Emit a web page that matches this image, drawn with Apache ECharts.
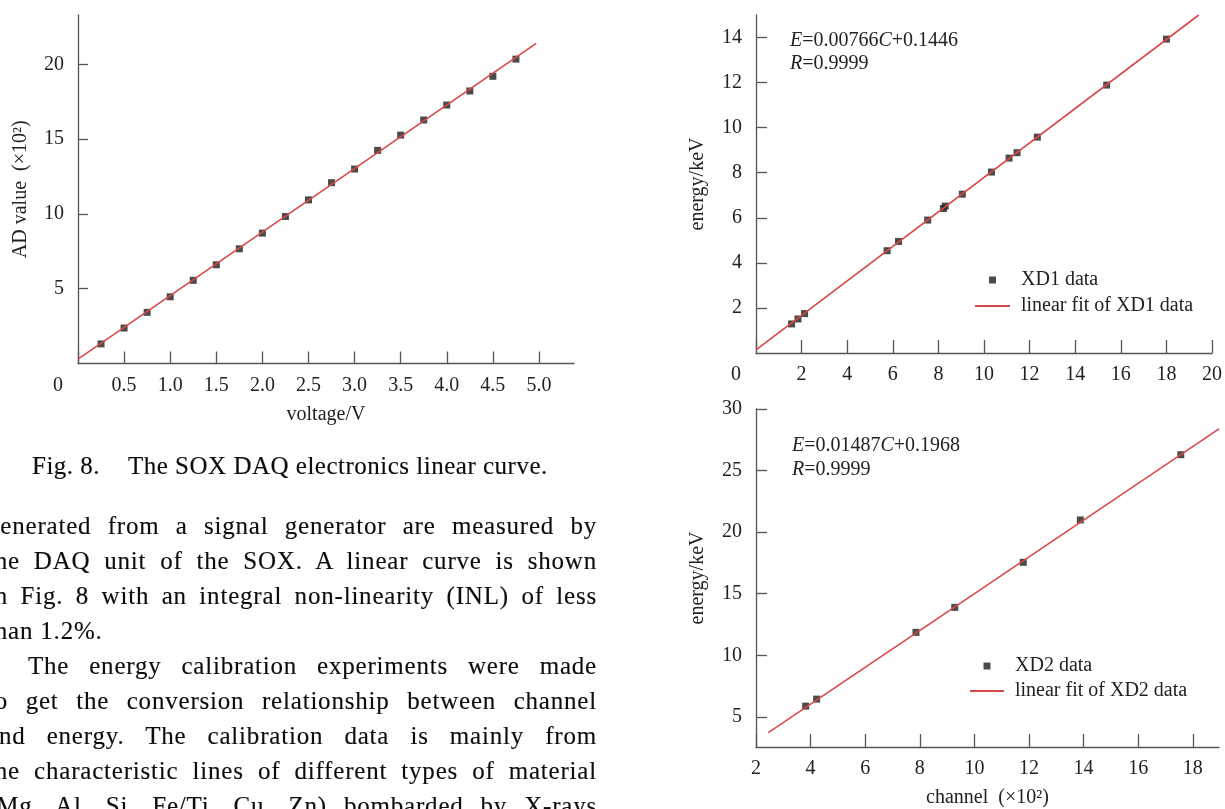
<!DOCTYPE html>
<html>
<head>
<meta charset="utf-8">
<script src="https://cdn.jsdelivr.net/npm/echarts@6/dist/echarts.min.js"></script>
<style>
  html, body { margin: 0; padding: 0; background: #fff; overflow: hidden; }
  #main { position: absolute; left: 0; top: 0; width: 1225px; height: 809px; }
  #page { position: absolute; left: 0; top: 0; width: 1225px; height: 809px; overflow: hidden;
          pointer-events: none; font-family: 'Liberation Serif', serif; color: #0d0d0d;
          -webkit-text-stroke: 0.15px #0d0d0d; }
  .ln { position: absolute; width: 610px; height: 35px; line-height: 35px; font-size: 25px;
        letter-spacing: 0.8px; text-align: justify; text-align-last: justify; overflow: hidden; }
  .ln.last { text-align: left; text-align-last: left; }
  .cap { position: absolute; height: 35px; line-height: 35px; font-size: 25px; letter-spacing: 0.5px; white-space: nowrap; }
</style>
</head>
<body>
<div id="main"></div>
<div id="page"></div>
<script>
// Fig. 8: SOX DAQ linearity
var voltage = [0.25, 0.5, 0.75, 1.0, 1.25, 1.5, 1.75, 2.0, 2.25, 2.5, 2.75, 3.0, 3.25, 3.5, 3.75, 4.0, 4.25, 4.5, 4.75];
var adValue = [1.31, 2.37, 3.42, 4.46, 5.56, 6.60, 7.67, 8.72, 9.83, 10.94, 12.09, 13.0, 14.25, 15.27, 16.28, 17.28, 18.22, 19.2, 20.35];
var adFit = [[0, 0.29], [4.97, 21.4]];
var voltageTicks = [0, 0.5, 1.0, 1.5, 2.0, 2.5, 3.0, 3.5, 4.0, 4.5, 5.0];
var adTicks = [5, 10, 15, 20];

// energy calibration, XD1
var xd1Channel = [1.56, 1.84, 2.13, 5.75, 6.25, 7.53, 8.22, 8.30, 9.05, 10.33, 11.10, 11.45, 12.34, 15.38, 18.00];
var xd1Energy = [1.29, 1.51, 1.75, 4.54, 4.95, 5.90, 6.41, 6.52, 7.05, 8.03, 8.65, 8.89, 9.58, 11.89, 13.93];
var xd1Fit = [[0, 0.14], [19.42, 15.0]];
var ch1Ticks = [0, 2, 4, 6, 8, 10, 12, 14, 16, 18, 20];
var e1Ticks = [2, 4, 6, 8, 10, 12, 14];

// energy calibration, XD2
var xd2Channel = [3.82, 4.22, 7.86, 9.28, 11.79, 13.88, 17.56];
var xd2Energy = [5.87, 6.44, 11.86, 13.89, 17.55, 20.99, 26.29];
var xd2Fit = [[2.45, 3.72], [18.96, 28.39]];
var ch2Ticks = [2, 4, 6, 8, 10, 12, 14, 16, 18];
var e2Ticks = [5, 10, 15, 20, 25, 30];

var eq1 = ['{i|E}=0.00766{i|C}+0.1446', '{i|R}=0.9999'];
var eq2 = ['{i|E}=0.01487{i|C}+0.1968', '{i|R}=0.9999'];

var caption = ['Fig. 8.', 'The SOX DAQ electronics linear curve.'];
var bodyLines = [
  'generated from a signal generator are measured by',
  'the DAQ unit of the SOX. A linear curve is shown',
  'in Fig. 8 with an integral non-linearity (INL) of less',
  'than 1.2%.',
  'The energy calibration experiments were made',
  'to get the conversion relationship between channel',
  'and energy.  The calibration data is mainly from',
  'the characteristic lines of different types of material',
  '(Mg, Al, Si, Fe/Ti, Cu, Zn) bombarded by X-rays'
];

// ---- page text around the figures ----
var page = document.getElementById('page');
var c1 = document.createElement('div');
c1.className = 'cap'; c1.style.left = '32px'; c1.style.top = '448px';
c1.textContent = caption[0];
page.appendChild(c1);
var c2 = document.createElement('div');
c2.className = 'cap'; c2.style.left = '128px'; c2.style.top = '448px';
c2.textContent = caption[1];
page.appendChild(c2);
for (var k = 0; k < bodyLines.length; k++) {
  var d = document.createElement('div');
  d.className = 'ln' + (k === 3 ? ' last' : '');
  var indent = (k === 4) ? 41 : 0;
  d.style.left = (-13 + indent) + 'px';
  d.style.width = (610 - indent) + 'px';
  d.style.top = (508 + k * 35) + 'px';
  d.textContent = bodyLines[k];
  page.appendChild(d);
}

// ---- charts ----
var font = 'Liberation Serif';
var axisColor = '#555';
var textColor = '#222';
var fitColor = '#d94848';
var dotColor = '#1e1e1e';

function pairs(xs, ys) {
  var out = [];
  for (var i = 0; i < xs.length; i++) out.push([xs[i], ys[i]]);
  return out;
}

function axis(grid, min, max, ticks, tickLen, fmt, name, gap, isY) {
  var a = {
    gridIndex: grid, type: 'value', min: min, max: max,
    axisLine: { onZero: false, lineStyle: { color: axisColor, width: 1.3 } },
    axisTick: { inside: true, length: tickLen, customValues: ticks, lineStyle: { color: axisColor, width: 1.3 } },
    axisLabel: {
      customValues: ticks, formatter: fmt, margin: isY ? 14 : 12,
      fontFamily: font, fontSize: 20, color: textColor,
      rich: { o: { padding: [0, 40, 0, 0], fontFamily: font, fontSize: 20, color: textColor } }
    },
    splitLine: { show: false },
    name: name, nameLocation: 'middle', nameGap: gap,
    nameTextStyle: { fontFamily: font, fontSize: 20, color: textColor }
  };
  if (isY) a.nameRotate = 90;
  return a;
}

var squareIcon = 'path://M0,0L1,0L1,1L0,1Z';
var hideDot = { opacity: 0, borderWidth: 0 };

function eqText(x, y, txt) {
  return {
    type: 'text', x: x, y: y,
    style: {
      text: txt, fill: textColor, fontFamily: font, fontSize: 20, verticalAlign: 'middle',
      rich: { i: { fontStyle: 'italic', fontFamily: font, fontSize: 20, fill: textColor } }
    }
  };
}

var chart = echarts.init(document.getElementById('main'));
chart.setOption({
  animation: false,
  backgroundColor: 'transparent',
  grid: [
    { left: 78, top: 15, width: 496, height: 348.5 },
    { left: 756, top: 15, width: 460, height: 338 },
    { left: 756, top: 409, width: 463, height: 338 }
  ],
  xAxis: [
    axis(0, 0, 5.38, voltageTicks, 12, function (v) { return v === 0 ? '{o|0}' : v.toFixed(1); }, 'voltage/V', 41, false),
    axis(1, 0, 20, ch1Ticks, 13, function (v) { return v === 0 ? '{o|0}' : String(v); }, '', 0, false),
    axis(2, 2, 18.96, ch2Ticks, 13, function (v) { return String(v); }, 'channel  (×10²)', 41, false)
  ],
  yAxis: [
    axis(0, 0, 23.3, adTicks, 10, function (v) { return String(v); }, 'AD value  (×10²)', 47, true),
    axis(1, 0, 15, e1Ticks, 11, function (v) { return String(v); }, 'energy/keV', 48, true),
    axis(2, 2.55, 30, e2Ticks, 11, function (v) { return String(v); }, 'energy/keV', 48, true)
  ],
  legend: [
    {
      data: [{ name: 'XD1 data', icon: squareIcon }, { name: 'linear fit of XD1 data', itemStyle: hideDot }],
      orient: 'vertical', left: 974, top: 270, itemWidth: 35, itemHeight: 7, itemGap: 6, padding: 0,
      selectedMode: false,
      textStyle: { fontFamily: font, fontSize: 20, color: textColor, padding: [0, 0, 0, 6] }
    },
    {
      data: [{ name: 'XD2 data', icon: squareIcon }, { name: 'linear fit of XD2 data', itemStyle: hideDot }],
      orient: 'vertical', left: 969, top: 656, itemWidth: 34, itemHeight: 7, itemGap: 5, padding: 0,
      selectedMode: false,
      textStyle: { fontFamily: font, fontSize: 20, color: textColor, padding: [0, 0, 0, 6] }
    }
  ],
  graphic: [
    eqText(790, 41, eq1[0]), eqText(790, 64, eq1[1]),
    eqText(792, 446, eq2[0]), eqText(792, 470, eq2[1])
  ],
  series: [
    { name: 'AD data', type: 'scatter', xAxisIndex: 0, yAxisIndex: 0, data: pairs(voltage, adValue),
      symbol: 'rect', symbolSize: 7, itemStyle: { color: dotColor }, z: 2 },
    { name: 'linear fit', type: 'line', xAxisIndex: 0, yAxisIndex: 0, data: adFit,
      symbol: 'none', lineStyle: { color: fitColor, width: 1.6 }, itemStyle: { color: fitColor }, z: 3 },
    { name: 'XD1 data', type: 'scatter', xAxisIndex: 1, yAxisIndex: 1, data: pairs(xd1Channel, xd1Energy),
      symbol: 'rect', symbolSize: 7, itemStyle: { color: dotColor }, z: 2 },
    { name: 'linear fit of XD1 data', type: 'line', xAxisIndex: 1, yAxisIndex: 1, data: xd1Fit,
      symbol: 'none', lineStyle: { color: fitColor, width: 1.6 }, itemStyle: { color: fitColor }, z: 3 },
    { name: 'XD2 data', type: 'scatter', xAxisIndex: 2, yAxisIndex: 2, data: pairs(xd2Channel, xd2Energy),
      symbol: 'rect', symbolSize: 7, itemStyle: { color: dotColor }, z: 2 },
    { name: 'linear fit of XD2 data', type: 'line', xAxisIndex: 2, yAxisIndex: 2, data: xd2Fit,
      symbol: 'none', lineStyle: { color: fitColor, width: 1.6 }, itemStyle: { color: fitColor }, z: 3 }
  ]
});
</script>
</body>
</html>
